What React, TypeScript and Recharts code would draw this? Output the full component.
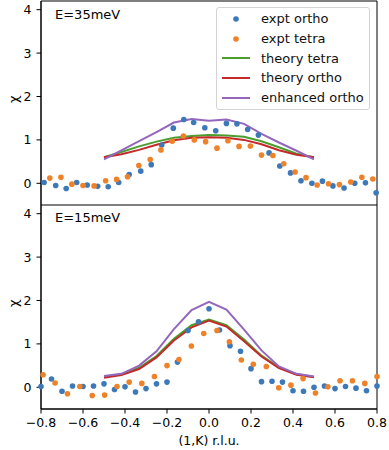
import { ComposedChart, Scatter, Line, XAxis, YAxis, ReferenceArea, Legend } from 'recharts'

const BLUE = '#3d78b8'
const ORANGE = '#ef8229'
const GREEN = '#4a9e2f'
const RED = '#c42a2a'
const PURPLE = '#9467bd'

// K positions of the theory curves (both panels)
const lineK = [-0.5, -0.417, -0.333, -0.25, -0.167, -0.083, 0, 0.083, 0.167, 0.25, 0.333, 0.417, 0.5]

// E = 35 meV
const topOrthoK = [-0.785, -0.73, -0.68, -0.63, -0.58, -0.53, -0.48, -0.43, -0.38, -0.325, -0.275, -0.225, -0.17, -0.12, -0.073, -0.02, 0.032, 0.083, 0.133, 0.184, 0.235, 0.286, 0.337, 0.388, 0.438, 0.49, 0.54, 0.59, 0.643, 0.694, 0.745, 0.796]
const topOrthoChi = [0.02, -0.05, -0.12, 0.02, -0.04, -0.07, -0.08, 0.02, 0.2, 0.28, 0.43, 0.88, 1.27, 1.47, 1.4, 1.28, 1.21, 1.38, 1.37, 1.24, 1.11, 0.7, 0.4, 0.24, 0.06, 0.0, 0.05, -0.06, -0.11, 0.0, 0.01, -0.22]
const topTetraK = [-0.758, -0.705, -0.653, -0.6, -0.547, -0.492, -0.44, -0.388, -0.334, -0.28, -0.229, -0.175, -0.122, -0.07, -0.016, 0.038, 0.09, 0.143, 0.197, 0.25, 0.304, 0.356, 0.41, 0.462, 0.515, 0.569, 0.621, 0.675, 0.728, 0.78]
const topTetraChi = [0.12, 0.14, -0.02, -0.05, -0.06, 0.06, 0.09, 0.15, 0.41, 0.55, 0.77, 0.97, 1.09, 1.0, 0.96, 0.81, 0.98, 0.85, 0.86, 0.65, 0.64, 0.45, 0.26, 0.13, -0.04, -0.01, -0.03, 0.03, 0.14, 0.1]
const topTheoryTetra = [0.6, 0.72, 0.85, 0.96, 1.05, 1.09, 1.11, 1.1, 1.07, 0.97, 0.83, 0.68, 0.6]
const topTheoryOrtho = [0.6, 0.67, 0.77, 0.89, 0.99, 1.05, 1.06, 1.05, 1.0, 0.9, 0.76, 0.66, 0.6]
const topEnhanced = [0.55, 0.76, 0.97, 1.18, 1.4, 1.48, 1.44, 1.47, 1.37, 1.14, 0.94, 0.75, 0.55]

// E = 15 meV
const botOrthoK = [-0.8, -0.75, -0.7, -0.65, -0.6, -0.55, -0.5, -0.45, -0.4, -0.35, -0.3, -0.25, -0.2, -0.15, -0.1, -0.05, 0, 0.05, 0.1, 0.15, 0.2, 0.25, 0.3, 0.35, 0.4, 0.45, 0.5, 0.55, 0.6, 0.65, 0.7, 0.75, 0.8]
const botOrthoChi = [0.02, 0.19, -0.09, 0.03, 0.02, 0.03, 0.08, -0.05, 0.01, -0.11, -0.03, 0.08, 0.12, 0.58, 1.31, 1.51, 1.81, 1.32, 0.96, 0.83, 0.43, 0.13, 0.14, 0.12, -0.08, -0.09, 0.0, 0.03, -0.03, 0.02, -0.02, -0.08, 0.03]
const botTetraK = [-0.79, -0.733, -0.674, -0.615, -0.556, -0.497, -0.438, -0.38, -0.32, -0.26, -0.2, -0.143, -0.084, -0.025, 0.038, 0.097, 0.154, 0.211, 0.273, 0.332, 0.39, 0.448, 0.507, 0.566, 0.624, 0.683, 0.742, 0.8]
const botTetraChi = [0.29, 0.1, -0.15, 0.02, -0.19, -0.18, 0.02, 0.12, 0.09, 0.25, 0.5, 0.64, 0.95, 1.24, 1.31, 1.05, 0.63, 0.53, 0.48, -0.01, 0.05, 0.2, -0.13, 0.01, 0.15, 0.15, 0.09, 0.25]
const botTheoryTetra = [0.24, 0.3, 0.45, 0.72, 1.12, 1.43, 1.56, 1.43, 1.1, 0.73, 0.46, 0.3, 0.24]
const botTheoryOrtho = [0.22, 0.28, 0.42, 0.69, 1.08, 1.38, 1.54, 1.4, 1.06, 0.71, 0.44, 0.29, 0.23]
const botEnhanced = [0.26, 0.31, 0.5, 0.83, 1.34, 1.78, 1.97, 1.79, 1.33, 0.85, 0.48, 0.31, 0.25]

const yTicks = [0, 1, 2, 3, 4]
const xTicks = [-0.8, -0.6, -0.4, -0.2, 0, 0.2, 0.4, 0.6, 0.8]

const legendItems = [
  { name: 'expt ortho', color: BLUE, kind: 'dot' },
  { name: 'expt tetra', color: ORANGE, kind: 'dot' },
  { name: 'theory tetra', color: GREEN, kind: 'line' },
  { name: 'theory ortho', color: RED, kind: 'line' },
  { name: 'enhanced ortho', color: PURPLE, kind: 'line' },
]

const FONT = 'DejaVu Sans, sans-serif'

const pts = (xs: number[], ys: number[]) => xs.map((x, i) => ({ x, y: ys[i] }))

const dot = (color: string) => (p: any) => <circle cx={p.cx} cy={p.cy} r={2.8} fill={color} />

function LegendBox() {
  return (
    <div
      style={{
        width: 152,
        height: 100,
        border: '1px solid #d4d4d4',
        borderRadius: 3,
        background: 'rgba(255,255,255,0.85)',
        fontFamily: FONT,
        fontSize: 13,
        color: '#111',
        paddingTop: 1,
      }}
    >
      {legendItems.map((it) => (
        <div key={it.name} style={{ height: 19.7, display: 'flex', alignItems: 'center' }}>
          <svg width={44} height={12}>
            {it.kind === 'dot' ? (
              <circle cx={19} cy={6} r={2.8} fill={it.color} />
            ) : (
              <line x1={5} x2={33} y1={6} y2={6} stroke={it.color} strokeWidth={2} />
            )}
          </svg>
          <span style={{ whiteSpace: 'nowrap' }}>{it.name}</span>
        </div>
      ))}
    </div>
  )
}

interface PanelProps {
  label: string
  orthoK: number[]
  orthoChi: number[]
  tetraK: number[]
  tetraChi: number[]
  theoryTetra: number[]
  theoryOrtho: number[]
  enhanced: number[]
  bottom: boolean
  showLegend: boolean
}

function Panel(p: PanelProps) {
  const height = p.bottom ? 245 : 205
  return (
    <div style={{ position: 'relative', width: 389, height }}>
      <ComposedChart width={389} height={height} margin={{ top: p.bottom ? 0 : 1, right: 12, bottom: 0, left: 0 }}>
        <XAxis
          type="number"
          dataKey="x"
          domain={[-0.8, 0.8]}
          ticks={xTicks}
          hide={!p.bottom}
          height={41}
          tickSize={4.5}
          tickMargin={5}
          stroke="#000"
          tick={{ fill: '#000', fontSize: 12.5, fontFamily: FONT }}
          tickFormatter={(v: number) => v.toFixed(1).replace('-', '\u2212')}
          label={{ value: '(1,K) r.l.u.', position: 'insideBottom', offset: 5, style: { fill: '#000', fontSize: 12.5, fontFamily: FONT } }}
        />
        <YAxis
          type="number"
          dataKey="y"
          domain={[-0.5, 4.2]}
          ticks={yTicks}
          width={41}
          tickSize={4.5}
          tickMargin={5}
          stroke="#000"
          tick={{ fill: '#000', fontSize: 12.5, fontFamily: FONT }}
          label={{ value: 'χ', angle: -90, position: 'insideLeft', offset: 13, style: { fill: '#000', fontSize: 13, fontFamily: FONT } }}
        />
        <ReferenceArea x1={-0.8} x2={0.8} y1={-0.5} y2={4.2} fill="none" stroke="#000" strokeWidth={1} fillOpacity={0} />
        <Scatter data={pts(p.orthoK, p.orthoChi)} dataKey="y" shape={dot(BLUE)} isAnimationActive={false} />
        <Scatter data={pts(p.tetraK, p.tetraChi)} dataKey="y" shape={dot(ORANGE)} isAnimationActive={false} />
        <Line data={pts(lineK, p.theoryTetra)} dataKey="y" type="linear" stroke={GREEN} strokeWidth={2} dot={false} isAnimationActive={false} />
        <Line data={pts(lineK, p.theoryOrtho)} dataKey="y" type="linear" stroke={RED} strokeWidth={2} dot={false} isAnimationActive={false} />
        <Line data={pts(lineK, p.enhanced)} dataKey="y" type="linear" stroke={PURPLE} strokeWidth={2} dot={false} isAnimationActive={false} />
        {p.showLegend && (
          <Legend
            layout="horizontal"
            align="center"
            verticalAlign="middle"
            content={() => <LegendBox />}
            wrapperStyle={{ left: 216, top: 7, width: 154 }}
          />
        )}
      </ComposedChart>
      <div
        style={{
          position: 'absolute',
          left: 55,
          top: p.bottom ? 4.5 : 6.5,
          fontFamily: FONT,
          fontSize: 13,
          color: '#000',
        }}
      >
        {p.label}
      </div>
    </div>
  )
}

export default function App() {
  return (
    <div style={{ position: 'absolute', left: 0, top: 0, width: 389, height: 450, background: '#fff' }}>
      <Panel
        label="E=35meV"
        orthoK={topOrthoK}
        orthoChi={topOrthoChi}
        tetraK={topTetraK}
        tetraChi={topTetraChi}
        theoryTetra={topTheoryTetra}
        theoryOrtho={topTheoryOrtho}
        enhanced={topEnhanced}
        bottom={false}
        showLegend={true}
      />
      <Panel
        label="E=15meV"
        orthoK={botOrthoK}
        orthoChi={botOrthoChi}
        tetraK={botTetraK}
        tetraChi={botTetraChi}
        theoryTetra={botTheoryTetra}
        theoryOrtho={botTheoryOrtho}
        enhanced={botEnhanced}
        bottom={true}
        showLegend={false}
      />
    </div>
  )
}
